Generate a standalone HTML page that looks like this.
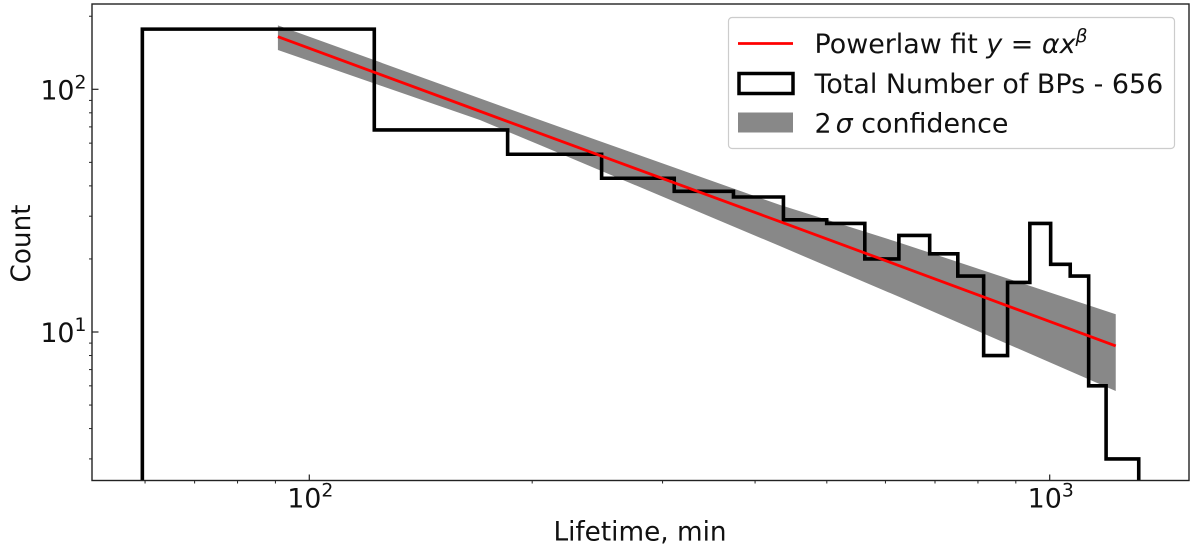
<!DOCTYPE html>
<html lang="en">
<head>
<meta charset="utf-8">
<title>Lifetime histogram with powerlaw fit</title>
<style>
html,body{margin:0;padding:0;background:#fff;}
body{width:1200px;height:551px;overflow:hidden;}
svg{display:block;}
text{font-family:"DejaVu Sans","Liberation Sans",sans-serif;fill:#111;}
</style>
</head>
<body>
<svg id="chart" xmlns="http://www.w3.org/2000/svg" width="1200" height="551" viewBox="0 0 1200 551">
  <defs><clipPath id="plot-clip"><rect x="92" y="4" width="1097" height="476.5"/></clipPath></defs>
  <rect x="0" y="0" width="1200" height="551" fill="#fff"/>
  <g id="marks" clip-path="url(#plot-clip)"></g>
  <g id="ticks"></g>
  <rect x="92" y="4" width="1097" height="476.5" fill="none" stroke="#222" stroke-width="1.4"/>
  <text x="640" y="540.5" font-size="26.3" text-anchor="middle">Lifetime, min</text>
  <text transform="translate(30,243.5) rotate(-90)" font-size="26.3" text-anchor="middle">Count</text>
  <g>
    <rect x="728.5" y="17.5" width="446" height="131" rx="3.5" fill="#fff" fill-opacity="0.8" stroke="#ccc" stroke-width="1.2"/>
    <line x1="738" y1="43.5" x2="793" y2="43.5" stroke="#f00" stroke-width="2.8"/>
    <text x="814.5" y="53" font-size="26.9">Powerlaw fit <tspan font-style="italic">y</tspan> = <tspan font-style="italic">αx</tspan><tspan font-style="italic" font-size="18.8" dy="-11">β</tspan></text>
    <rect x="739" y="73.5" width="54" height="20" fill="none" stroke="#000" stroke-width="3.5"/>
    <text x="814.5" y="93" font-size="26.9">Total Number of BPs - 656</text>
    <rect x="738" y="112.5" width="55" height="20" fill="#888"/>
    <text x="814.5" y="132.5" font-size="26.9">2<tspan font-style="italic" dx="4">σ</tspan> confidence</text>
  </g>
</svg>
<script>
// Histogram data
const binEdges = [59.5,122.4,185.3,248.2,311.1,374,436.9,499.8,562.7,625.6,688.5,751.4,814.3,877.2,940.1,1003,1065.9,1128.8,1191.7,1255,1319];
const binCounts = [177,68,54,43,38,36,29,28,20,25,21,17,8,16,28,19,17,6,3,3];
// Fit line and confidence band
const fitLifetimes = [90.7,170,205,432,628,1228];
const fitCounts = [164.7,81.2,65.8,28.5,18.7,8.76];
const bandUpper = [183.5,91.8,74.7,33.4,23.3,11.83];
const bandLower = [145.2,74.7,58.9,22.6,13.9,5.71];
// Axis ticks
const xMajorTicks = [100,1000];
const xMajorLabels = ["2","3"];
const xMinorTicks = [60,70,80,90,200,300,400,500,600,700,800,900];
const yMajorTicks = [10,100];
const yMajorLabels = ["1","2"];
const yMinorTicks = [3,4,5,6,7,8,9,20,30,40,50,60,70,80,90,200];

const SVG_NS = "http://www.w3.org/2000/svg";
function xScale(v){ return 309.3 + (Math.log10(v) - 2) * 740.4; }
function yScale(v){ return 332 - (Math.log10(v) - 1) * 242.7; }
function make(tag, parent){
  const el = document.createElementNS(SVG_NS, tag);
  parent.appendChild(el);
  return el;
}
const marks = document.getElementById("marks");
const ticks = document.getElementById("ticks");
const PLOT_BOTTOM = 480.5;

// Confidence band
let bandD = "";
fitLifetimes.forEach(function(v,i){ bandD += (i ? "L" : "M") + xScale(v).toFixed(2) + " " + yScale(bandUpper[i]).toFixed(2); });
for (let i = fitLifetimes.length - 1; i >= 0; i--) { bandD += "L" + xScale(fitLifetimes[i]).toFixed(2) + " " + yScale(bandLower[i]).toFixed(2); }
bandD += "Z";
const band = make("path", marks);


band.setAttribute("d", bandD);
band.setAttribute("fill", "#888");

// Histogram outline
let histD = "M" + xScale(binEdges[0]).toFixed(2) + " " + (PLOT_BOTTOM + 10);
binCounts.forEach(function(c,i){
  const y = yScale(c).toFixed(2);
  histD += "L" + xScale(binEdges[i]).toFixed(2) + " " + y + "L" + xScale(binEdges[i+1]).toFixed(2) + " " + y;
});
histD += "L" + xScale(binEdges[binEdges.length-1]).toFixed(2) + " " + (PLOT_BOTTOM + 10);
const hist = make("path", marks);


hist.setAttribute("d", histD);
hist.setAttribute("fill", "none");
hist.setAttribute("stroke", "#000");
hist.setAttribute("stroke-width", "3.6");
hist.setAttribute("stroke-linejoin", "miter");

// Fit line
let fitD = "";
fitLifetimes.forEach(function(v,i){ fitD += (i ? "L" : "M") + xScale(v).toFixed(2) + " " + yScale(fitCounts[i]).toFixed(2); });
const fit = make("path", marks);


fit.setAttribute("d", fitD);
fit.setAttribute("fill", "none");
fit.setAttribute("stroke", "#f00");
fit.setAttribute("stroke-width", "2.8");

function tickLine(x1,y1,x2,y2,w){
  const l = make("line", ticks);
  l.setAttribute("x1", x1);
  l.setAttribute("y1", y1);
  l.setAttribute("x2", x2);
  l.setAttribute("y2", y2);
  l.setAttribute("stroke", "#222");
  l.setAttribute("stroke-width", w);
  return l;
}
function powerLabel(x,y,anchor,exp){
  const t = make("text", ticks);
  t.setAttribute("x", x);
  t.setAttribute("y", y);
  t.setAttribute("font-size", "26.9");
  t.setAttribute("text-anchor", anchor);
  const sup = document.createElementNS(SVG_NS, "tspan");
  t.textContent = "10";
  sup.textContent = exp;
  sup.setAttribute("font-size", "18.8");
  sup.setAttribute("dy", "-11");
  t.appendChild(sup);
  return t;
}

xMajorTicks.forEach(function(v,i){
  const x = xScale(v);
  const l = tickLine(x, PLOT_BOTTOM, x, PLOT_BOTTOM - 6, 1.2);
  
  
  const t = powerLabel(x + 1, 507.5, "middle", xMajorLabels[i]);
  
  
});
xMinorTicks.forEach(function(v){
  const x = xScale(v);
  const l = tickLine(x, PLOT_BOTTOM, x, PLOT_BOTTOM + 3, 1);
  
  
});
yMajorTicks.forEach(function(v,i){
  const y = yScale(v);
  const l = tickLine(92, y, 98.5, y, 1.2);
  
  
  const t = powerLabel(86.5, y + 10, "end", yMajorLabels[i]);
  
  
});
yMinorTicks.forEach(function(v){
  const y = yScale(v);
  const l = tickLine(89, y, 92, y, 1);
  
  
});
</script>
</body>
</html>
